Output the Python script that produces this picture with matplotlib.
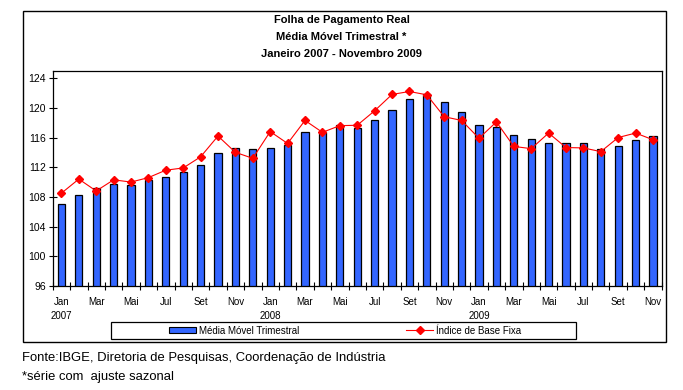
import matplotlib.pyplot as plt
from matplotlib.patches import Rectangle
from matplotlib.lines import Line2D
from matplotlib.patches import Patch

plt.rcParams['font.family'] = ['Liberation Sans', 'DejaVu Sans']

# dados: jan/2007 a nov/2009
meses = ['Jan', 'Fev', 'Mar', 'Abr', 'Mai', 'Jun', 'Jul', 'Ago', 'Set', 'Out', 'Nov', 'Dez'] * 3
meses = meses[:35]
anos = ['2007', '2008', '2009']

media_movel = [107.1, 108.2, 109.25, 109.8, 109.65, 110.3, 110.7, 111.4, 112.3, 113.9, 114.6, 114.45,
               114.6, 115.0, 116.7, 116.7, 117.65, 117.25, 118.3, 119.65, 121.25, 121.9, 120.85, 119.5,
               117.65, 117.4, 116.3, 115.8, 115.25, 115.25, 115.25, 114.45, 114.85, 115.65, 116.2]

base_fixa = [108.5, 110.4, 108.8, 110.3, 110.0, 110.6, 111.6, 111.9, 113.4, 116.2, 114.0, 113.2,
             116.8, 115.2, 118.3, 116.7, 117.6, 117.65, 119.6, 121.8, 122.2, 121.75, 118.8, 118.3,
             115.9, 118.1, 114.8, 114.5, 116.6, 114.65, 114.6, 114.1, 116.0, 116.6, 115.7]

fig = plt.figure(figsize=(6.83, 3.9), dpi=100)
W, H = 683, 390

# moldura externa
fig.patches.append(Rectangle((23 / W, 1 - 342 / H), (666 - 23) / W, (342 - 10.7) / H,
                             transform=fig.transFigure, fill=False, edgecolor='black', lw=1))

ax = fig.add_axes([52.7 / W, 1 - 286 / H, (661.7 - 52.7) / W, (286 - 70.7) / H])
x = list(range(len(media_movel)))
ax.bar(x, media_movel, width=0.42, color='#3366FF', edgecolor='black', linewidth=0.9, zorder=2)
ax.plot(x, base_fixa, color='red', lw=0.8, marker='D', markersize=4.5, markerfacecolor='red',
        markeredgecolor='red', zorder=3)

ax.set_ylim(96, 125)
ax.set_yticks(range(96, 125, 4))
ax.set_xlim(-0.5, len(x) - 0.5)
ax.set_xticks([i - 0.5 for i in range(len(x) + 1)])
ax.set_xticklabels([])
ax.set_xticks(x[::2], minor=True)
ax.set_xticklabels(meses[::2], minor=True)
ax.tick_params(axis='x', which='major', direction='inout', length=6, width=0.8)
ax.tick_params(axis='x', which='minor', length=0, pad=8, labelsize=7)
ax.tick_params(axis='y', direction='inout', length=6, width=0.8, labelsize=7.5, pad=2)
for s in ax.spines.values():
    s.set_linewidth(0.9)

for i, ano in enumerate(anos):
    ax.text(i * 12, -0.14, ano, transform=ax.get_xaxis_transform(), ha='center', va='center', fontsize=7)

fig.text(0.5, 1 - 20 / H, 'Folha de Pagamento Real', ha='center', va='center',
         fontsize=8, fontweight='bold')
fig.text(0.5, 1 - 37 / H, 'Média Móvel Trimestral *', ha='center', va='center',
         fontsize=8, fontweight='bold')
fig.text(0.5, 1 - 54 / H, 'Janeiro 2007 - Novembro 2009', ha='center', va='center',
         fontsize=8, fontweight='bold')

# caixa da legenda
fig.patches.append(Rectangle((111 / W, 1 - 339 / H), (576 - 111) / W, (339 - 322) / H,
                             transform=fig.transFigure, fill=False, edgecolor='black', lw=0.9))
handles = [Patch(facecolor='#3366FF', edgecolor='black', linewidth=0.8),
           Line2D([], [], color='red', lw=0.8, marker='D', markersize=4.5)]
fig.legend(handles, ['Média Móvel Trimestral', 'Índice de Base Fixa'], ncol=2, frameon=False,
           loc='center', bbox_to_anchor=(345 / W, 1 - 330.5 / H), fontsize=7,
           columnspacing=11, handlelength=2.8, handletextpad=0.3, handleheight=0.6)

fig.text(22 / W, 1 - 358 / H, 'Fonte:IBGE, Diretoria de Pesquisas, Coordenação de Indústria',
         ha='left', va='center', fontsize=9.4)
fig.text(22 / W, 1 - 377 / H, '*série com  ajuste sazonal', ha='left', va='center', fontsize=9.4)

fig.savefig('out.png', dpi=100)
